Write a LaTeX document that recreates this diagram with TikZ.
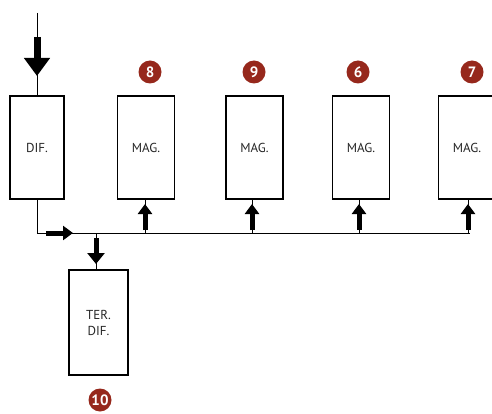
\documentclass[tikz,border=0pt]{standalone}
\usepackage{fontspec}
\setmainfont{PT Sans}
\usetikzlibrary{arrows.meta}
\definecolor{badgered}{RGB}{150,40,28}

\begin{document}
\begin{tikzpicture}[x=1pt,y=-1pt,
  box/.style={draw,line width=1.6pt,minimum width=57pt,minimum height=103pt,
    inner sep=0pt,align=center,text=black!85,font=\fontsize{13}{16}\selectfont},
  thickbox/.style={box,line width=2.4pt},
  badge/.style={circle,fill=badgered,text=white,minimum size=23pt,inner sep=0pt,
    font=\bfseries\fontsize{15}{15}\selectfont},
  wire/.style={line width=1pt},
  bigarrow/.style={line width=7pt,-{Triangle[width=25pt,length=18pt]}},
  smallarrow/.style={line width=5pt,-{Triangle[width=14pt,length=10pt]}}]
\useasboundingbox (0,0) rectangle (492,414);

% boxes
\node[thickbox,minimum width=54pt] (dif) at (37,147.5) {DIF.};
\node[box] (mag1) at (146,147.5) {MAG.};
\node[box] (mag2) at (254.5,147.5) {MAG.};
\node[box] (mag3) at (361,147.5) {MAG.};
\node[box] (mag4) at (467,147.5) {MAG.};
\node[thickbox,minimum width=59pt,minimum height=105pt] (ter) at (98.5,322.5) {TER.\\DIF.};

% numbers
\node[badge] (n8) at (150,72) {8};
\node[badge] (n9) at (254,72) {9};
\node[badge] (n6) at (358,72) {6};
\node[badge] (n7) at (472,72) {7};
\node[badge] (n10) at (100,400) {10};

% input
\coordinate (in) at (37,13);
\draw[wire] (in) -- (dif.north);
\draw[bigarrow] (37,37) -- (37,76);

% bus
\coordinate (busend) at (470,233);
\draw[wire] (dif.south) |- (busend);
\draw[smallarrow] (46,233) -- (73,233);

% to tertiary
\coordinate (tap) at (96,233);
\draw[wire] (tap) -- (tap |- ter.north);
\draw[smallarrow,-{Triangle[width=17pt,length=11pt]}] (96,238) -- (96,264);

% to magazines
\foreach \m/\x in {mag1/145,mag2/252,mag3/359,mag4/468}{
  \draw[wire] (\x,233) -- (\x,199);
  \draw[smallarrow] (\x,230) -- (\x,204);
}
\end{tikzpicture}
\end{document}
